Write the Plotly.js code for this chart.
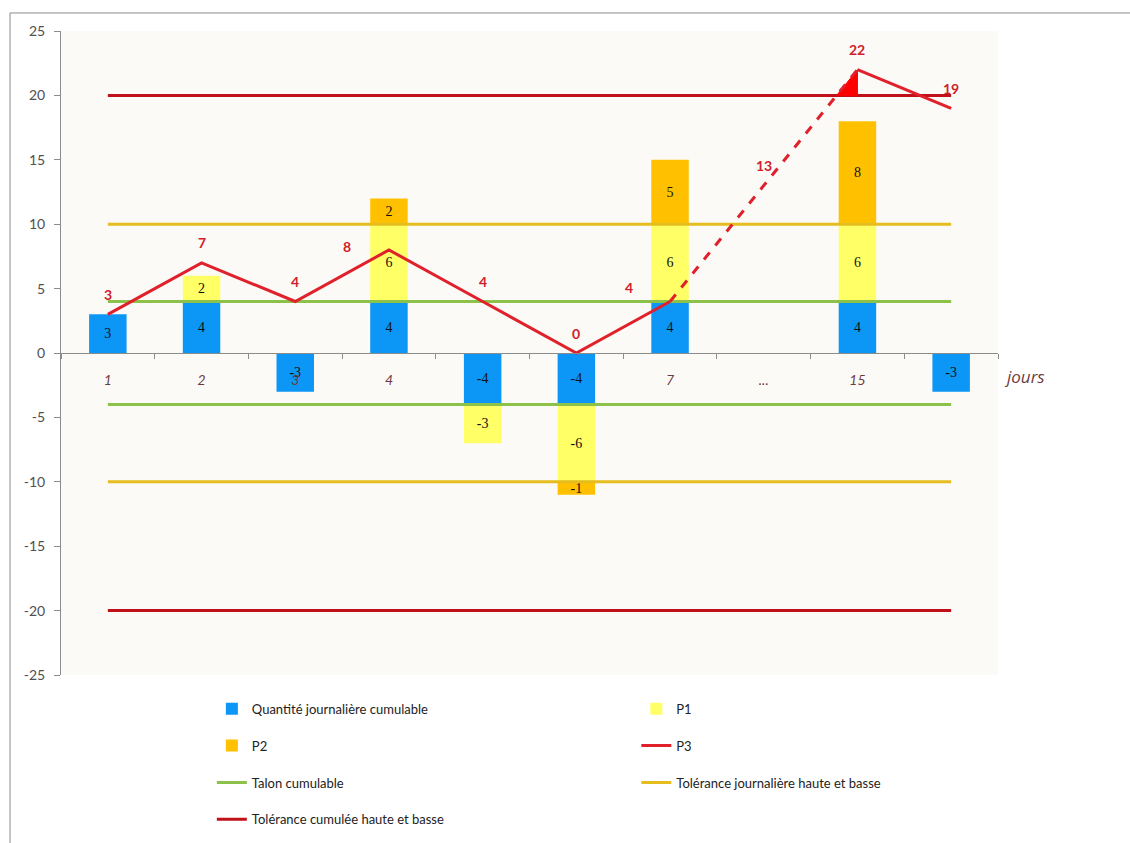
<!DOCTYPE html>
<html><head><meta charset="utf-8">
<script src="https://cdn.plot.ly/plotly-3.0.1.min.js"></script>
<style>html,body{margin:0;padding:0;background:#fff}#chart{width:1130px;height:843px}</style>
</head><body><div id="chart"></div>
<script>
// ---- data ----
const categories = ['1','2','3','4','5','6','7','...','15','16'];
const tickLabels = ['1','2','3','4','','','7','...','15',''];
const quantite = [3, 4, -3, 4, -4, -4, 4, null, 4, -3];
const p1 = [null, 2, null, 6, -3, -6, 6, null, 6, null];
const p2 = [null, null, null, 2, null, -1, 5, null, 8, null];
const p3 = [3, 7, 4, 8, 4, 0, 4, 13, 22, 19];
const talon = 4;
const tolJour = 10;
const tolCum = 20;
const yTickVals = [-25, -20, -15, -10, -5, 0, 5, 10, 15, 20, 25];
const yTickText = ['-25', '-20', '-15', '-10', '-5', '0', '5', '10', '15', '20', '25'];

// ---- build ----
const xIdx = categories.map((c, i) => i);
const lbl = arr => arr.map(v => v == null ? '' : String(v));
const barFont = {family: 'Liberation Serif, DejaVu Serif, serif', size: 14, color: '#111'};
const legFont = {family: 'Lato, sans-serif', size: 13, color: '#222'};

function bar(name, y, color, legend, rank) {
  return {type: 'bar', name, x: xIdx, y, marker: {color}, width: 0.4,
    text: lbl(y), textposition: 'inside', insidetextanchor: 'middle', constraintext: 'none', textangle: 0,
    textfont: barFont, hoverinfo: 'name+y', legend, legendrank: rank};
}
function hline(name, v, color, legend, rank) {
  const x0 = xIdx[0], x1 = xIdx[xIdx.length - 1];
  return {type: 'scatter', mode: 'lines', name, x: [x0, x1, null, x0, x1], y: [v, v, null, -v, -v],
    line: {color, width: 3}, legend, legendrank: rank, connectgaps: false};
}
const seg = (a, b) => ({x: xIdx.slice(a, b + 1), y: p3.slice(a, b + 1)});
const red = '#e0202a';
const s1 = seg(0, 6), s2 = seg(6, 8), s3 = seg(8, 9);
const xCross = xIdx[7] + (tolCum - p3[7]) / (p3[8] - p3[7]);

const traces = [
  bar('Quantité journalière cumulable', quantite, '#0c96f5', 'legend', 1),
  bar('P1', p1, '#ffff66', 'legend2', 1),
  bar('P2', p2, '#ffc000', 'legend', 2),
  hline('Talon cumulable', talon, '#8cc24a', 'legend', 3),
  hline('Tolérance journalière haute et basse', tolJour, '#e6bd1e', 'legend2', 3),
  hline('Tolérance cumulée haute et basse', tolCum, '#c0101a', 'legend', 4),
  {type: 'scatter', mode: 'lines', x: [xCross, xIdx[8], xIdx[8], xCross], y: [tolCum, p3[8], tolCum, tolCum],
   fill: 'toself', fillcolor: '#ff0000', line: {width: 1, color: '#ff0000'}, showlegend: false, hoverinfo: 'skip'},
  {type: 'scatter', mode: 'lines', name: 'P3', x: s1.x, y: s1.y, line: {color: red, width: 3}, legend: 'legend2', legendrank: 2},
  {type: 'scatter', mode: 'lines', name: 'P3', x: s2.x, y: s2.y, line: {color: red, width: 3, dash: 'dash'}, showlegend: false},
  {type: 'scatter', mode: 'lines', name: 'P3', x: s3.x, y: s3.y, line: {color: red, width: 3}, showlegend: false}
];

const xShift = {3: -42, 6: -41};
const yShift = {3: 3, 6: 14};
const annotations = p3.map((v, i) => ({
  x: xIdx[i], y: v, text: String(v), showarrow: false,
  xshift: xShift[i] || 0, yshift: yShift[i] != null ? yShift[i] : 20,
  font: {family: 'Lato, sans-serif', size: 14, color: '#d0202a', weight: 'bold'}
}));
annotations.push({x: xIdx[xIdx.length - 1] + 0.5, y: 0, xanchor: 'left', xshift: 4, yshift: -23, showarrow: false,
  text: '<i>jours</i>', font: {family: 'Open Sans, sans-serif', size: 17, color: '#6e3a3e'}});

const layout = {
  width: 1130, height: 843,
  margin: {l: 61, r: 132, t: 31, b: 168, autoexpand: false},
  paper_bgcolor: '#ffffff', plot_bgcolor: '#fcfaf7',
  barmode: 'relative',
  showlegend: true,
  xaxis: {type: 'linear', range: [-0.5, xIdx.length - 0.5], anchor: 'free', position: 0.5,
    tickmode: 'array', tickvals: xIdx, ticktext: tickLabels, ticks: '', ticklabelstandoff: 14,
    tickfont: {family: 'Lato, sans-serif', size: 14, color: '#6e3a3e', style: 'italic'},
    showline: true, linecolor: '#8c8c8c', linewidth: 1, showgrid: false, zeroline: false,
    minor: {tickmode: 'linear', tick0: -0.5, dtick: 1, ticks: 'outside', ticklen: 5, tickcolor: '#8c8c8c', showgrid: false}},
  yaxis: {range: [-25, 25], tickmode: 'array', tickvals: yTickVals, ticktext: yTickText,
    ticks: 'outside', ticklen: 6, tickcolor: '#8c8c8c', showline: true, linecolor: '#8c8c8c',
    showgrid: false, zeroline: false, ticklabelstandoff: 6,
    tickfont: {family: 'Lato, sans-serif', size: 14, color: '#505050'}},
  legend: {x: 0.161, y: -0.029, xanchor: 'left', yanchor: 'top', orientation: 'v', bgcolor: 'rgba(0,0,0,0)',
    font: legFont, tracegroupgap: 17, traceorder: 'grouped'},
  legend2: {x: 0.614, y: -0.029, xanchor: 'left', yanchor: 'top', orientation: 'v', bgcolor: 'rgba(0,0,0,0)',
    font: legFont, tracegroupgap: 17, traceorder: 'grouped'},
  annotations,
  shapes: [{type: 'rect', xref: 'paper', yref: 'paper', x0: -0.0544, x1: 1.2, y0: -0.4, y1: 1.028,
    line: {color: '#8c8c8c', width: 1}, fillcolor: 'rgba(0,0,0,0)', layer: 'below'}]
};
// give each trace its own legend group so tracegroupgap spaces the rows
traces.forEach((t, i) => { t.legendgroup = 'g' + i; });
Plotly.newPlot('chart', traces, layout, {displayModeBar: false});
</script></body></html>
